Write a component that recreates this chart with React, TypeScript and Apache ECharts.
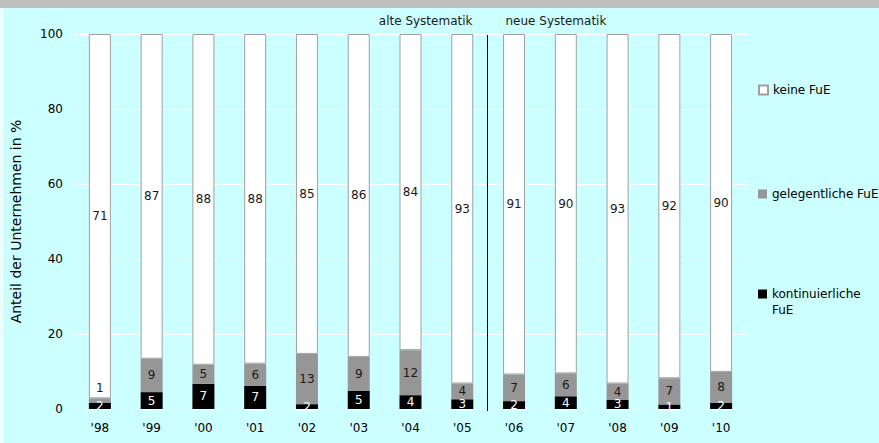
import React, { useEffect, useRef } from "react";
import * as echarts from "echarts";

const categories = ["'98", "'99", "'00", "'01", "'02", "'03", "'04", "'05", "'06", "'07", "'08", "'09", "'10"];
const kontinuierlich = [1.7, 4.5, 6.7, 6.2, 1.3, 4.9, 3.7, 2.6, 2.1, 3.4, 2.5, 1.2, 1.6];
const gelegentlich = [1.15, 8.9, 5.1, 5.9, 13.4, 9.0, 12.0, 4.2, 7.1, 6.1, 4.3, 7.0, 8.3];
const keine = [97.15, 86.6, 88.2, 87.9, 85.3, 86.1, 84.3, 93.2, 90.8, 90.5, 93.2, 91.8, 90.1];
const kontLabels = [2, 5, 7, 7, 2, 5, 4, 3, 2, 4, 3, 1, 2];
const gelLabels = [1, 9, 5, 6, 13, 9, 12, 4, 7, 6, 4, 7, 8];
const keineLabels = [71, 87, 88, 88, 85, 86, 84, 93, 91, 90, 93, 92, 90];
const yTicks = [0, 20, 40, 60, 80, 100];

const FONT = "DejaVu Sans";
const BG = "#ccffff";

export default function App() {
  const ref = useRef<HTMLDivElement>(null);
  useEffect(() => {
    document.body.style.margin = "0";
    if (!ref.current) return;
    const chart = echarts.init(ref.current, undefined, { renderer: "svg" });
    const legendBase = {
      orient: "vertical",
      left: 758,
      padding: 0,
      itemWidth: 9,
      itemHeight: 9,
      icon: "rect",
      textStyle: { fontFamily: FONT, fontSize: 12, color: "#000" },
    };
    chart.setOption({
      animation: false,
      backgroundColor: BG,
      textStyle: { fontFamily: FONT },
      grid: { left: 74, right: 132, top: 34, bottom: 34, containLabel: false },
      legend: [
        { ...legendBase, top: 84, data: ["keine FuE"] },
        { ...legendBase, top: 188, data: ["gelegentliche FuE"] },
        {
          ...legendBase,
          top: 270,
          data: ["kontinuierliche FuE"],
          formatter: () => " \nkontinuierliche\nFuE",
          textStyle: { ...legendBase.textStyle, lineHeight: 16 },
        },
      ],
      xAxis: {
        type: "category",
        data: categories,
        axisLine: { show: false },
        axisTick: { show: false },
        axisLabel: { fontFamily: FONT, fontSize: 12, color: "#000", margin: 13 },
      },
      yAxis: {
        type: "value",
        min: yTicks[0],
        max: yTicks[yTicks.length - 1],
        interval: 20,
        name: "Anteil der Unternehmen in %",
        nameLocation: "middle",
        nameGap: 51,
        nameTextStyle: { fontFamily: FONT, fontSize: 14, color: "#000" },
        axisLine: { show: false },
        axisTick: { show: false },
        axisLabel: { fontFamily: FONT, fontSize: 12, color: "#000", margin: 11 },
        splitLine: { lineStyle: { color: "#ffffff", width: 1 } },
      },
      series: [
        {
          name: "kontinuierliche FuE",
          type: "bar",
          stack: "a",
          barWidth: 22,
          itemStyle: { color: "#000000" },
          label: {
            show: true,
            position: "inside",
            color: "#ffffff",
            fontFamily: FONT,
            fontSize: 12,
            formatter: (p: any) => String(kontLabels[p.dataIndex]),
          },
          data: kontinuierlich,
        },
        {
          name: "gelegentliche FuE",
          type: "bar",
          stack: "a",
          barWidth: 22,
          itemStyle: { color: "#969696" },
          label: {
            show: true,
            position: "inside",
            color: "#1a1a1a",
            fontFamily: FONT,
            fontSize: 12,
            formatter: (p: any) => String(gelLabels[p.dataIndex]),
          },
          data: gelegentlich.map((v, i) =>
            i === 0 ? { value: v, label: { offset: [0, -12] } } : v
          ),
        },
        {
          name: "keine FuE",
          type: "bar",
          stack: "a",
          barWidth: 22,
          itemStyle: { color: "#ffffff", borderColor: "#a0a0a0", borderWidth: 1 },
          label: {
            show: true,
            position: "inside",
            color: "#1a1a1a",
            fontFamily: FONT,
            fontSize: 12,
            formatter: (p: any) => String(keineLabels[p.dataIndex]),
          },
          data: keine,
        },
      ],
    });

    const x1 = chart.convertToPixel({ xAxisIndex: 0 }, categories[7]) as number;
    const x2 = chart.convertToPixel({ xAxisIndex: 0 }, categories[8]) as number;
    const xm = Math.round((x1 + x2) / 2) - 0.5;
    const yTop = chart.convertToPixel({ yAxisIndex: 0 }, 100) as number;
    const yBot = chart.convertToPixel({ yAxisIndex: 0 }, 0) as number;

    chart.setOption({
      graphic: [
        { type: "rect", shape: { x: 0, y: 0, width: 879, height: 8 }, style: { fill: "#c0c0c0" }, silent: true },
        { type: "rect", shape: { x: 0, y: 8, width: 3, height: 435 }, style: { fill: "#eefefe" }, silent: true },
        {
          type: "line",
          shape: { x1: xm, y1: yTop + 1, x2: xm, y2: yBot + 2 },
          style: { stroke: "#000000", lineWidth: 1 },
          z: 10,
          silent: true,
        },
        {
          type: "text",
          x: xm - 15,
          y: 21,
          style: { text: "alte Systematik", fontFamily: FONT, fontSize: 12, fill: "#1a1a1a", align: "right", verticalAlign: "middle" },
        },
        {
          type: "text",
          x: xm + 18,
          y: 21,
          style: { text: "neue Systematik", fontFamily: FONT, fontSize: 12, fill: "#1a1a1a", align: "left", verticalAlign: "middle" },
        },
      ],
    });

    return () => chart.dispose();
  }, []);
  return <div ref={ref} style={{ width: 879, height: 443 }} />;
}
